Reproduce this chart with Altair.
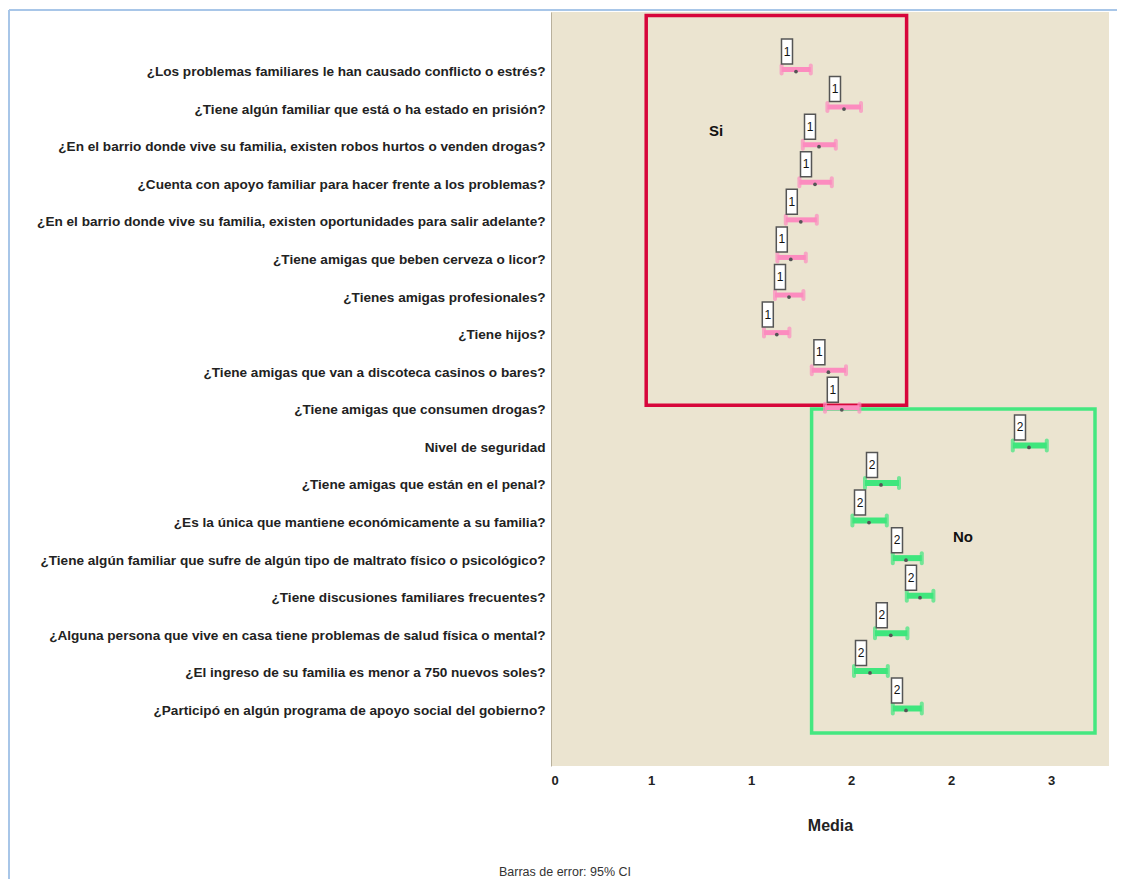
import json
import altair as alt
import pandas as pd

# ---- data ----
questions = [
    "¿Los problemas familiares le han causado conflicto o estrés?",
    "¿Tiene algún familiar que está o ha estado en prisión?",
    "¿En el barrio donde vive su familia, existen robos hurtos o venden drogas?",
    "¿Cuenta con apoyo familiar para hacer frente a los problemas?",
    "¿En el barrio donde vive su familia, existen oportunidades para salir adelante?",
    "¿Tiene amigas que beben cerveza o licor?",
    "¿Tienes amigas profesionales?",
    "¿Tiene hijos?",
    "¿Tiene  amigas que van a discoteca casinos o bares?",
    "¿Tiene amigas que consumen drogas?",
    "Nivel de seguridad",
    "¿Tiene amigas que están en el penal?",
    "¿Es la única que mantiene económicamente a su familia?",
    "¿Tiene algún familiar que sufre de algún tipo de maltrato físico o psicológico?",
    "¿Tiene discusiones familiares frecuentes?",
    "¿Alguna persona que vive en casa tiene problemas de salud física o mental?",
    "¿El ingreso de su familia es menor a 750 nuevos soles?",
    "¿Participó en algún programa de apoyo social del gobierno?",
]
row_index = list(range(18))
means = [1.225, 1.465, 1.34, 1.32, 1.249, 1.199, 1.19, 1.129, 1.387, 1.454,
         2.39, 1.65, 1.59, 1.775, 1.845, 1.699, 1.595, 1.775]
ci_low = [1.153, 1.382, 1.259, 1.242, 1.174, 1.132, 1.12, 1.065, 1.304, 1.37,
          2.309, 1.57, 1.507, 1.709, 1.779, 1.62, 1.515, 1.709]
ci_high = [1.299, 1.55, 1.424, 1.404, 1.329, 1.274, 1.262, 1.192, 1.475, 1.542,
           2.479, 1.74, 1.679, 1.854, 1.912, 1.782, 1.684, 1.854]
group = ["1"] * 10 + ["2"] * 8

box_names = ["Si", "No"]
box_x = [0.476, 1.303]
box_x2 = [1.778, 2.72]
box_y = [-1.44, 9.03]
box_y2 = [8.93, 17.65]
box_colors = ["#D7063B", "#44E780"]

ann_text = ["Si", "No"]
ann_x = [0.825, 2.06]
ann_y = [1.64, 12.44]

note_text = ["Barras de error: 95% CI"]
note_x = [0.07]
note_y = [21.35]

x_ticks = [0, 0.5, 1.0, 1.5, 2.0, 2.5]

# ---- tables ----
group_color = {"1": "#FC8CBF", "2": "#3FE67D"}
group_width = {"1": 5, "2": 6}
group_cap = {"1": 12, "2": 14}
df = pd.DataFrame({
    "idx": row_index, "mean": means, "lo": ci_low, "hi": ci_high, "grp": group,
})
df["col"] = df["grp"].map(group_color)
df["sw"] = df["grp"].map(group_width)
df["cap"] = df["grp"].map(group_cap)

boxes = pd.DataFrame({"name": box_names, "x": box_x, "x2": box_x2,
                      "y": box_y, "y2": box_y2, "col": box_colors})
ann = pd.DataFrame({"t": ann_text, "x": ann_x, "y": ann_y})
note = pd.DataFrame({"t": note_text, "x": note_x, "y": note_y})

FONT = "Liberation Sans, Arial, sans-serif"

xscale = alt.Scale(domain=[0, 2.79], nice=False, zero=False)
yscale = alt.Scale(domain=[-1.53, 18.53], nice=False, zero=False, reverse=True)

label_expr = json.dumps(questions, ensure_ascii=False) + "[datum.value]"

xaxis = alt.Axis(values=x_ticks, format=".0f", grid=False, ticks=False,
                 tickSize=0, domain=False, labelFont=FONT,
                 labelFontSize=13, labelFontWeight="bold",
                 labelColor="#222", labelPadding=8,
                 titleFont=FONT, titleFontSize=16,
                 titleFontWeight="bold", titleColor="#222",
                 titlePadding=30)
yaxis = alt.Axis(values=row_index, labelExpr=label_expr, grid=False,
                 ticks=False, tickSize=0, domain=True,
                 domainColor="#B8B09C", domainWidth=1,
                 labelFont=FONT, labelFontSize=13.6,
                 labelFontWeight="bold", labelColor="#222",
                 labelPadding=6, labelLimit=700, labelOffset=2)


def X(f):
    return alt.X(f, type="quantitative", scale=xscale, axis=xaxis, title="Media")


def Y(f):
    return alt.Y(f, type="quantitative", scale=yscale, axis=yaxis, title=None)


box_layer = alt.Chart(boxes).mark_rect(fillOpacity=0, strokeWidth=3.5).encode(
    x=X("x"), x2="x2", y=Y("y"), y2="y2",
    stroke=alt.Stroke("col:N", scale=None),
)

rule_layer = alt.Chart(df).mark_rule().encode(
    x=X("lo"), x2="hi", y=Y("idx"),
    color=alt.Color("col:N", scale=None),
    strokeWidth=alt.StrokeWidth("sw:Q", scale=None),
)

cap_lo = alt.Chart(df).mark_tick(orient="vertical", thickness=4,
                                 cornerRadius=2).encode(
    x=X("lo"), y=Y("idx"), color=alt.Color("col:N", scale=None),
    size=alt.Size("cap:Q", scale=None))
cap_hi = alt.Chart(df).mark_tick(orient="vertical", thickness=4,
                                 cornerRadius=2).encode(
    x=X("hi"), y=Y("idx"), color=alt.Color("col:N", scale=None),
    size=alt.Size("cap:Q", scale=None))

mean_layer = alt.Chart(df).mark_circle(size=14, color="#555", opacity=1,
                                       yOffset=2).encode(x=X("mean"), y=Y("idx"))

lbl_box = alt.Chart(df).mark_rect(width=11, height=25, fill="white",
                                  stroke="#555", strokeWidth=1.5,
                                  xOffset=-9, yOffset=-18).encode(
    x=X("mean"), y=Y("idx"))
lbl_txt = alt.Chart(df).mark_text(fontSize=12, font=FONT,
                                  color="#111", xOffset=-9, yOffset=-18).encode(
    x=X("mean"), y=Y("idx"), text="grp:N")

ann_layer = alt.Chart(ann).mark_text(fontSize=15, fontWeight="bold", font=FONT,
                                     color="#111").encode(
    x=X("x"), y=Y("y"), text="t:N")

note_layer = alt.Chart(note).mark_text(fontSize=12.5, font=FONT,
                                       color="#333").encode(
    x=X("x"), y=Y("y"), text="t:N")

border_top = alt.Chart(ann).mark_rule(color="#A8C6E8", strokeWidth=2).encode(
    x=alt.value(-542), x2=alt.value(580), y=alt.value(-2))
border_left = alt.Chart(ann).mark_rule(color="#A8C6E8", strokeWidth=2).encode(
    x=alt.value(-542), y=alt.value(-2), y2=alt.value(868))

chart = alt.layer(
    box_layer, rule_layer, cap_lo, cap_hi, mean_layer,
    lbl_box, lbl_txt, ann_layer, note_layer, border_top, border_left,
).properties(
    width=558, height=754,
    autosize=alt.AutoSizeParams(type="none"),
    padding={"left": 543, "top": 4, "right": 8, "bottom": 113},
).configure(
    background="white",
    view=alt.ViewConfig(fill="#EBE4D0", stroke=None),
)

chart.save("out.html", embed_options={"renderer": "svg", "actions": False})
